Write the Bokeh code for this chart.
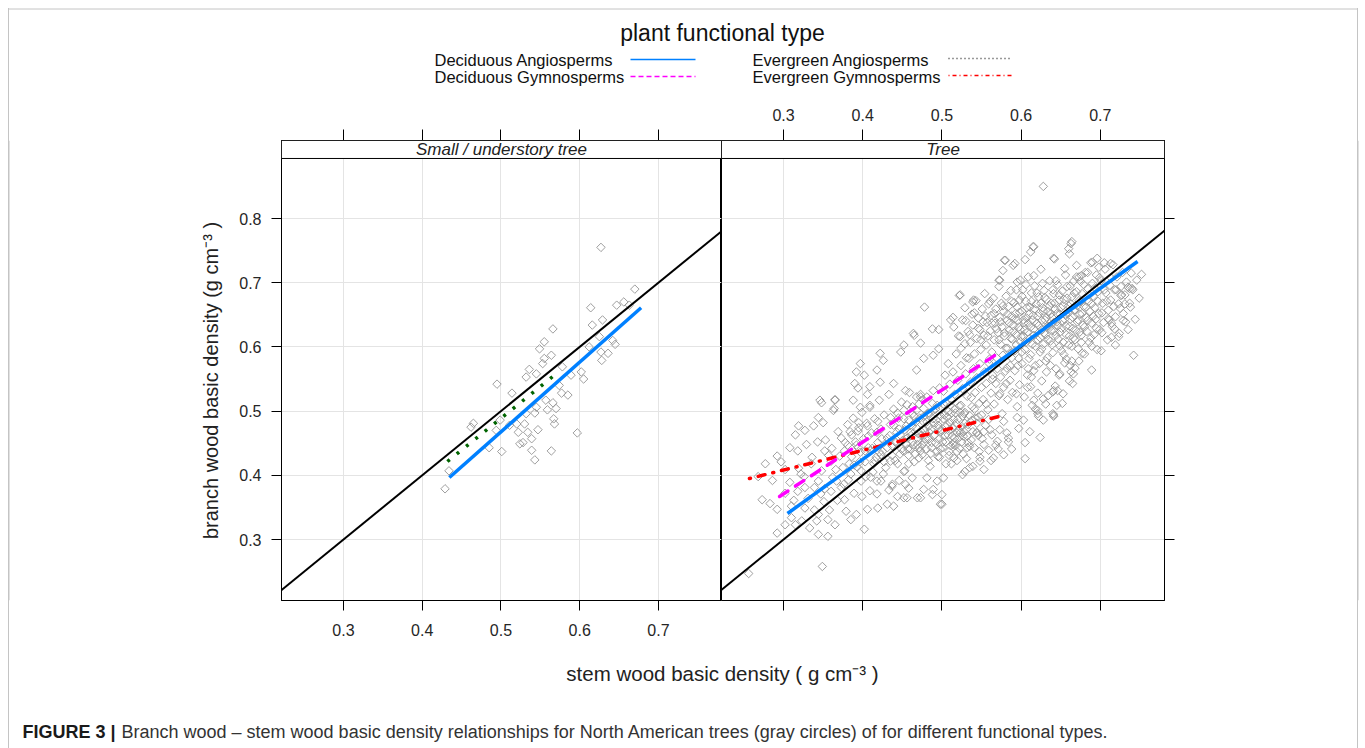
import math
from bokeh.plotting import figure
from bokeh.layouts import row, column
from bokeh.models import (Range1d, LinearAxis, FixedTicker, CustomJSTickFormatter,
                          BoxAnnotation, Label)
from bokeh.core.properties import value
from bokeh.embed import file_html
from bokeh.resources import INLINE

# ---------------------------------------------------------------- data
x_ticks = [0.3, 0.4, 0.5, 0.6, 0.7]
y_ticks = [0.3, 0.4, 0.5, 0.6, 0.7, 0.8]
panel_titles = ["Small / understory tree", "Tree"]
legend_title = "plant functional type"
pft_names = ["Deciduous Angiosperms", "Deciduous Gymnosperms",
             "Evergreen Angiosperms", "Evergreen Gymnosperms"]
x_title = "stem wood basic density ( g cm\u207b\u00b3 )"
y_title = "branch wood basic density (g cm\u207b\u00b3 )"
caption_bold = "FIGURE 3 |"
caption_text = ("Branch wood \u2013 stem wood basic density relationships for North American "
                "trees (gray circles) of for different functional types.")

# 1:1 reference line
identity_x = [0.2, 0.8]
identity_y = [0.2, 0.8]

# fitted lines (stem density, branch density end points)
small_da_x = [0.4345, 0.678]
small_da_y = [0.3966, 0.661]
small_ea_x = [0.432, 0.569]
small_ea_y = [0.4215, 0.557]
tree_da_x = [0.305, 0.747]
tree_da_y = [0.3405, 0.733]
tree_dg_x = [0.295, 0.572]
tree_dg_y = [0.367, 0.591]
tree_eg_x = [0.257, 0.572]
tree_eg_y = [0.395, 0.4916]

# observations (stem, branch)
small_obs = [(0.627,0.755),(0.670,0.690),(0.614,0.661),(0.647,0.665),(0.656,0.670),(0.663,0.665),
    (0.629,0.642),(0.616,0.634),(0.566,0.628),(0.625,0.616),(0.642,0.610),(0.645,0.604),(0.627,0.592),
    (0.636,0.590),(0.628,0.579),(0.612,0.600),(0.549,0.597),(0.555,0.608),(0.564,0.587),(0.555,0.582),
    (0.553,0.574),(0.578,0.569),(0.536,0.565),(0.532,0.553),(0.545,0.558),(0.589,0.556),(0.602,0.561),
    (0.605,0.550),(0.495,0.542),(0.574,0.540),(0.577,0.528),(0.585,0.525),(0.514,0.528),(0.557,0.517),
    (0.566,0.513),(0.559,0.502),(0.570,0.504),(0.543,0.497),(0.545,0.506),(0.532,0.496),(0.567,0.488),
    (0.568,0.480),(0.530,0.480),(0.520,0.480),(0.547,0.471),(0.534,0.467),(0.522,0.467),(0.597,0.466),
    (0.494,0.470),(0.465,0.481),(0.462,0.475),(0.524,0.449),(0.528,0.451),(0.539,0.457),(0.485,0.443),
    (0.501,0.437),(0.539,0.439),(0.564,0.438),(0.543,0.424),(0.434,0.407),(0.429,0.379),(0.499,0.486),
    (0.511,0.478)]

tree_outer = [(0.628,0.850),(0.664,0.764),(0.660,0.753),(0.616,0.756),(0.612,0.748),(0.605,0.736),
    (0.580,0.735),(0.641,0.738),(0.696,0.738),(0.690,0.732),(0.713,0.730),(0.673,0.709),(0.590,0.727),
    (0.577,0.719),(0.572,0.704),(0.599,0.704),(0.523,0.681),(0.478,0.662),(0.540,0.673),(0.740,0.691),
    (0.738,0.662),(0.727,0.681),(0.725,0.660),(0.710,0.644),(0.732,0.639),(0.723,0.616),(0.742,0.587),
    (0.689,0.564),(0.677,0.590),(0.662,0.571),(0.666,0.558),(0.649,0.558),(0.641,0.532),(0.628,0.519),
    (0.616,0.517),(0.645,0.509),(0.621,0.501),(0.641,0.494),(0.464,0.621),(0.452,0.603),(0.448,0.592),
    (0.422,0.590),(0.426,0.579),(0.473,0.606),(0.496,0.627),(0.511,0.642),(0.515,0.631),(0.523,0.616),
    (0.529,0.605),(0.496,0.597),(0.489,0.587),(0.477,0.582),(0.468,0.564),(0.397,0.574),(0.392,0.561),
    (0.402,0.556),(0.418,0.564),(0.422,0.545),(0.439,0.543),(0.409,0.538),(0.390,0.543),(0.346,0.517),
    (0.365,0.517),(0.364,0.504),(0.388,0.517),(0.397,0.506),(0.409,0.506),(0.454,0.532),(0.473,0.522),
    (0.489,0.532),(0.348,0.513),(0.363,0.501),(0.350,0.482),(0.338,0.477),(0.327,0.470),(0.319,0.477),
    (0.315,0.463),(0.292,0.430),(0.277,0.418),(0.308,0.443),(0.318,0.438),(0.329,0.448),(0.302,0.409),
    (0.273,0.362),(0.292,0.347),(0.310,0.352),(0.327,0.349),(0.310,0.334),(0.302,0.323),(0.292,0.310),
    (0.315,0.323),(0.323,0.329),(0.333,0.318),(0.342,0.329),(0.344,0.339),(0.356,0.331),(0.365,0.323),
    (0.344,0.308),(0.356,0.305),(0.349,0.258),(0.256,0.247),(0.360,0.375),(0.367,0.391),(0.344,0.391),
    (0.327,0.381),(0.318,0.375),(0.377,0.362),(0.392,0.339),(0.402,0.316),(0.406,0.347),(0.419,0.349),
    (0.431,0.355),(0.452,0.365),(0.469,0.365),(0.498,0.355),(0.488,0.370),(0.444,0.367),(0.458,0.380),
    (0.477,0.378),(0.500,0.370),(0.4375,0.386),(0.423,0.391),(0.410,0.397),(0.385,0.402),(0.398,0.407),
    (0.375,0.412),(0.360,0.422),(0.377,0.438),(0.394,0.443),(0.410,0.438),(0.423,0.432),(0.435,0.422),
    (0.452,0.406),(0.4625,0.396),(0.481,0.396),(0.494,0.391),(0.502,0.396),(0.344,0.490),(0.381,0.479),
    (0.394,0.469),(0.406,0.477),(0.419,0.484),(0.435,0.490),(0.444,0.497),(0.456,0.510),(0.473,0.526),
    (0.406,0.526),(0.394,0.536),(0.365,0.518),(0.373,0.458),(0.352,0.438),(0.737,0.691),(0.726,0.680),
    (0.729,0.641),(0.718,0.628),(0.714,0.615),(0.665,0.543),(0.663,0.561),(0.653,0.527),(0.646,0.532),
    (0.640,0.530),(0.621,0.496),(0.640,0.496),(0.613,0.553),(0.632,0.561),(0.623,0.574),(0.608,0.537),
    (0.594,0.527),(0.581,0.543),(0.573,0.527),(0.564,0.550),(0.670,0.709),(0.676,0.711),(0.661,0.745),
    (0.663,0.761),(0.642,0.737),(0.615,0.756),(0.592,0.730),(0.579,0.735),(0.573,0.704),(0.522,0.680),
    (0.539,0.670),(0.465,0.618),(0.488,0.628),(0.514,0.646),(0.530,0.641),(0.641,0.492),(0.622,0.492),
    (0.614,0.509),(0.624,0.459),(0.605,0.451),(0.605,0.426),(0.584,0.458),(0.565,0.427),(0.548,0.422),
    (0.532,0.443),(0.529,0.406),(0.535,0.445),(0.515,0.451),(0.515,0.427),(0.500,0.355),(0.489,0.378),
    (0.473,0.365),(0.456,0.365),(0.439,0.352),(0.454,0.386),(0.437,0.383),(0.418,0.391),(0.578,0.484),
    (0.595,0.490),(0.561,0.471),(0.544,0.466),(0.523,0.466),(0.570,0.453),(0.553,0.448),(0.322,0.402),
    (0.336,0.428),(0.347,0.371),(0.353,0.455),(0.362,0.397),(0.371,0.430),(0.376,0.386),(0.383,0.418),
    (0.389,0.372),(0.392,0.447),(0.398,0.391),(0.358,0.346),(0.368,0.361),(0.379,0.344),(0.512,0.418),
    (0.519,0.437),(0.526,0.401),(0.531,0.426),(0.539,0.414),(0.547,0.437),(0.553,0.409),(0.562,0.423),
    (0.571,0.441),(0.582,0.466),(0.588,0.441),(0.597,0.473),(0.603,0.486),(0.611,0.468),(0.618,0.503),
    (0.628,0.486),(0.634,0.524),(0.652,0.512)]

tree_upper = [(0.521,0.617),(0.524,0.598),(0.526,0.642),(0.529,0.661),(0.531,0.583),(0.533,0.624),
    (0.536,0.607),(0.538,0.651),(0.539,0.634),(0.541,0.589),(0.543,0.672),(0.544,0.613),(0.546,0.645),
    (0.548,0.627),(0.549,0.596),(0.551,0.659),(0.553,0.618),(0.554,0.683),(0.556,0.603),(0.557,0.638),
    (0.559,0.667),(0.559,0.575),(0.561,0.625),(0.562,0.649),(0.563,0.592),(0.565,0.676),(0.566,0.611),
    (0.567,0.637),(0.568,0.659),(0.569,0.583),(0.571,0.622),(0.572,0.694),(0.573,0.646),(0.574,0.604),
    (0.575,0.668),(0.576,0.631),(0.577,0.587),(0.578,0.655),(0.579,0.617),(0.581,0.679),(0.582,0.641),
    (0.583,0.598),(0.584,0.663),(0.585,0.626),(0.586,0.571),(0.587,0.688),(0.588,0.648),(0.589,0.612),
    (0.590,0.633),(0.591,0.669),(0.592,0.594),(0.593,0.652),(0.594,0.619),(0.595,0.701),(0.596,0.641),
    (0.597,0.582),(0.598,0.673),(0.599,0.627),(0.599,0.608),(0.601,0.656),(0.602,0.689),(0.603,0.617),
    (0.604,0.638),(0.605,0.596),(0.606,0.671),(0.607,0.645),(0.608,0.623),(0.609,0.709),(0.610,0.582),
    (0.611,0.662),(0.612,0.631),(0.613,0.684),(0.614,0.604),(0.615,0.649),(0.616,0.618),(0.617,0.695),
    (0.618,0.571),(0.619,0.667),(0.620,0.637),(0.621,0.611),(0.622,0.678),(0.623,0.653),(0.624,0.592),
    (0.625,0.721),(0.626,0.627),(0.627,0.661),(0.628,0.604),(0.629,0.688),(0.630,0.642),(0.631,0.619),
    (0.632,0.674),(0.633,0.583),(0.634,0.655),(0.635,0.632),(0.636,0.703),(0.637,0.609),(0.638,0.668),
    (0.639,0.646),(0.640,0.591),(0.641,0.683),(0.642,0.624),(0.643,0.659),(0.644,0.566),(0.645,0.639),
    (0.646,0.697),(0.647,0.612),(0.648,0.673),(0.649,0.651),(0.649,0.601),(0.651,0.629),(0.652,0.687),
    (0.653,0.664),(0.654,0.588),(0.655,0.643),(0.656,0.712),(0.657,0.619),(0.658,0.676),(0.659,0.654),
    (0.660,0.603),(0.661,0.632),(0.662,0.695),(0.663,0.667),(0.664,0.578),(0.665,0.646),(0.666,0.614),
    (0.667,0.684),(0.668,0.658),(0.669,0.626),(0.670,0.727),(0.671,0.639),(0.672,0.597),(0.673,0.672),
    (0.674,0.651),(0.675,0.702),(0.676,0.618),(0.677,0.683),(0.678,0.634),(0.679,0.663),(0.680,0.589),
    (0.681,0.716),(0.682,0.646),(0.683,0.624),(0.684,0.691),(0.685,0.671),(0.686,0.607),(0.687,0.655),
    (0.688,0.731),(0.689,0.637),(0.690,0.699),(0.691,0.679),(0.692,0.619),(0.693,0.661),(0.694,0.643),
    (0.695,0.712),(0.696,0.596),(0.697,0.686),(0.698,0.652),(0.699,0.627),(0.701,0.703),(0.703,0.668),
    (0.704,0.638),(0.706,0.721),(0.707,0.684),(0.709,0.611),(0.710,0.657),(0.712,0.696),(0.713,0.673),
    (0.715,0.632),(0.716,0.728),(0.718,0.689),(0.719,0.647),(0.721,0.709),(0.723,0.667),(0.724,0.621),
    (0.726,0.694),(0.728,0.716),(0.729,0.652),(0.731,0.681),(0.733,0.701),(0.735,0.627),(0.737,0.668),
    (0.739,0.715),(0.741,0.689),(0.744,0.643),(0.746,0.704),(0.749,0.676),(0.752,0.713)]

tree_upper_core = [(0.566,0.652),(0.569,0.628),(0.572,0.611),(0.574,0.639),(0.577,0.664),(0.579,0.622),
    (0.581,0.598),(0.583,0.651),(0.585,0.637),(0.587,0.613),(0.588,0.671),(0.590,0.624),(0.592,0.644),
    (0.594,0.603),(0.595,0.662),(0.597,0.631),(0.598,0.654),(0.600,0.616),(0.601,0.679),(0.603,0.642),
    (0.604,0.626),(0.606,0.607),(0.607,0.661),(0.609,0.637),(0.610,0.651),(0.611,0.613),(0.613,0.671),
    (0.614,0.642),(0.616,0.628),(0.617,0.659),(0.618,0.601),(0.620,0.684),(0.621,0.648),(0.622,0.633),
    (0.624,0.614),(0.625,0.668),(0.626,0.641),(0.628,0.656),(0.629,0.622),(0.630,0.677),(0.632,0.646),
    (0.633,0.632),(0.634,0.612),(0.636,0.664),(0.637,0.651),(0.638,0.626),(0.640,0.689),(0.641,0.638),
    (0.642,0.668),(0.644,0.618),(0.645,0.652),(0.646,0.633),(0.648,0.681),(0.649,0.623),(0.650,0.661),
    (0.652,0.641),(0.653,0.607),(0.654,0.674),(0.656,0.651),(0.657,0.632),(0.658,0.694),(0.660,0.664),
    (0.661,0.617),(0.662,0.643),(0.664,0.678),(0.665,0.629),(0.667,0.657),(0.668,0.611),(0.670,0.686),
    (0.671,0.664),(0.672,0.642),(0.674,0.623),(0.676,0.671),(0.677,0.652),(0.679,0.697),(0.680,0.631),
    (0.682,0.662),(0.684,0.641),(0.686,0.681),(0.688,0.614),(0.689,0.667),(0.691,0.648),(0.693,0.692),
    (0.695,0.629),(0.697,0.671),(0.699,0.708),(0.702,0.653),(0.705,0.689),(0.708,0.671),(0.711,0.642),
    (0.714,0.707),(0.717,0.663),(0.720,0.689),(0.555,0.648),(0.558,0.617),(0.561,0.671),(0.563,0.637),
    (0.546,0.629),(0.549,0.611),(0.552,0.639),(0.535,0.619),(0.541,0.653),(0.594,0.689),(0.606,0.697),
    (0.616,0.711),(0.627,0.699),(0.644,0.703),(0.655,0.722),(0.666,0.702),(0.684,0.716),(0.698,0.724),
    (0.705,0.731),(0.612,0.588),(0.626,0.597),(0.639,0.603),(0.651,0.594),(0.664,0.601),(0.676,0.607),
    (0.689,0.601),(0.702,0.622),(0.714,0.637),(0.588,0.583),(0.601,0.592),(0.582,0.567),(0.596,0.571),
    (0.609,0.566),(0.631,0.578),(0.657,0.581),(0.673,0.578),(0.701,0.594),(0.719,0.603),(0.731,0.667),
    (0.735,0.693)]

tree_middle = [(0.502,0.531),(0.504,0.556),(0.506,0.512),(0.508,0.574),(0.510,0.542),(0.512,0.497),
    (0.514,0.561),(0.516,0.526),(0.518,0.589),(0.520,0.548),(0.522,0.508),(0.524,0.571),(0.526,0.535),
    (0.528,0.496),(0.530,0.558),(0.532,0.523),(0.534,0.582),(0.536,0.545),(0.538,0.507),(0.540,0.566),
    (0.542,0.529),(0.544,0.552),(0.546,0.491),(0.548,0.574),(0.550,0.537),(0.552,0.518),(0.554,0.561),
    (0.556,0.543),(0.558,0.502),(0.560,0.581),(0.562,0.528),(0.564,0.556),(0.566,0.511),(0.568,0.543),
    (0.570,0.566),(0.572,0.524),(0.574,0.553),(0.576,0.496),(0.578,0.537),(0.580,0.562),(0.583,0.518),
    (0.586,0.548),(0.589,0.529),(0.592,0.563),(0.595,0.507),(0.598,0.541),(0.601,0.574),(0.604,0.522),
    (0.608,0.556),(0.612,0.538),(0.616,0.563),(0.621,0.528),(0.626,0.547),(0.631,0.511),(0.637,0.571),
    (0.643,0.539),(0.648,0.556),(0.655,0.575),(0.661,0.547),(0.668,0.567)]

tree_lower = [(0.381,0.447),(0.384,0.468),(0.386,0.429),(0.388,0.489),(0.391,0.452),(0.393,0.413),
    (0.395,0.474),(0.397,0.436),(0.399,0.498),(0.401,0.457),(0.403,0.421),(0.405,0.481),(0.407,0.443),
    (0.409,0.509),(0.411,0.466),(0.413,0.405),(0.415,0.488),(0.417,0.428),(0.419,0.451),(0.421,0.517),
    (0.423,0.472),(0.425,0.437),(0.427,0.494),(0.429,0.412),(0.431,0.458),(0.433,0.526),(0.435,0.479),
    (0.437,0.446),(0.439,0.503),(0.441,0.423),(0.443,0.467),(0.445,0.489),(0.447,0.433),(0.449,0.514),
    (0.451,0.455),(0.453,0.407),(0.455,0.477),(0.457,0.441),(0.459,0.529),(0.461,0.462),(0.463,0.496),
    (0.465,0.421),(0.467,0.483),(0.469,0.448),(0.471,0.511),(0.473,0.469),(0.475,0.432),(0.477,0.492),
    (0.479,0.457),(0.481,0.522),(0.483,0.476),(0.485,0.414),(0.487,0.443),(0.489,0.501),(0.491,0.463),
    (0.493,0.486),(0.495,0.429),(0.497,0.536),(0.499,0.471),(0.501,0.452),(0.503,0.494),(0.505,0.418),
    (0.507,0.478),(0.509,0.437),(0.511,0.509),(0.513,0.461),(0.515,0.487),(0.517,0.446),(0.519,0.423),
    (0.521,0.471),(0.523,0.498),(0.525,0.452),(0.527,0.433),(0.529,0.481),(0.532,0.461),(0.535,0.412),
    (0.538,0.486),(0.541,0.443),(0.544,0.467),(0.548,0.428),(0.551,0.457),(0.555,0.478),(0.559,0.439),
    (0.563,0.463),(0.568,0.447),(0.573,0.471),(0.578,0.432),(0.584,0.452),(0.442,0.451),(0.446,0.472),
    (0.449,0.441),(0.452,0.488),(0.456,0.458),(0.458,0.431),(0.462,0.476),(0.464,0.447),(0.468,0.501),
    (0.470,0.465),(0.473,0.438),(0.476,0.484),(0.478,0.452),(0.482,0.496),(0.484,0.467),(0.486,0.434),
    (0.490,0.482),(0.492,0.451),(0.494,0.509),(0.496,0.473),(0.498,0.441),(0.502,0.488),(0.504,0.462),
    (0.508,0.499),(0.510,0.471),(0.514,0.448),(0.516,0.503),(0.518,0.481),(0.522,0.459),(0.526,0.492),
    (0.528,0.468),(0.533,0.479),(0.537,0.455),(0.542,0.489),(0.546,0.462)]

tree_lower_core = [(0.448,0.462),(0.451,0.438),(0.453,0.471),(0.455,0.449),(0.458,0.486),(0.460,0.441),
    (0.461,0.467),(0.463,0.452),(0.465,0.492),(0.466,0.433),(0.468,0.474),(0.469,0.458),(0.471,0.443),
    (0.472,0.489),(0.474,0.462),(0.475,0.447),(0.477,0.504),(0.478,0.471),(0.480,0.441),(0.481,0.483),
    (0.483,0.456),(0.484,0.497),(0.486,0.471),(0.487,0.451),(0.489,0.488),(0.490,0.462),(0.492,0.503),
    (0.493,0.437),(0.495,0.478),(0.496,0.456),(0.498,0.493),(0.499,0.468),(0.501,0.443),(0.502,0.511),
    (0.504,0.476),(0.505,0.452),(0.507,0.491),(0.508,0.463),(0.510,0.483),(0.511,0.446),(0.513,0.517),
    (0.514,0.474),(0.516,0.458),(0.517,0.497),(0.519,0.466),(0.520,0.487),(0.522,0.442),(0.524,0.509),
    (0.525,0.476),(0.527,0.461),(0.529,0.498),(0.531,0.472),(0.533,0.451),(0.535,0.493),(0.537,0.521),
    (0.539,0.468),(0.541,0.503),(0.544,0.481),(0.547,0.512),(0.550,0.494),(0.553,0.468),(0.556,0.511),
    (0.559,0.487),(0.431,0.443),(0.434,0.462),(0.437,0.431),(0.439,0.478),(0.441,0.452),(0.444,0.418),
    (0.421,0.436),(0.424,0.457),(0.427,0.421),(0.412,0.442),(0.415,0.423),(0.418,0.467),(0.403,0.438),
    (0.407,0.461),(0.396,0.421),(0.458,0.418),(0.471,0.427),(0.483,0.423),(0.497,0.428),(0.509,0.431),
    (0.488,0.512),(0.476,0.518),(0.463,0.507),(0.452,0.501),(0.468,0.522)]

tree_left = [(0.302,0.372),(0.308,0.389),(0.313,0.361),(0.319,0.411),(0.326,0.398),(0.331,0.364),
    (0.335,0.418),(0.339,0.381),(0.343,0.452),(0.348,0.407),(0.352,0.379),(0.357,0.431),(0.361,0.442),
    (0.366,0.409),(0.369,0.468),(0.373,0.381),(0.378,0.451),(0.382,0.393),(0.386,0.463),(0.389,0.416),
    (0.395,0.482),(0.399,0.367),(0.404,0.398),(0.409,0.376),(0.414,0.418),(0.418,0.371),(0.426,0.402),
    (0.433,0.377),(0.446,0.392),(0.286,0.392),(0.297,0.421),(0.283,0.356),(0.268,0.398),(0.339,0.346),
    (0.351,0.359),(0.385,0.331)]

# ---------------------------------------------------------------- styling
FONT = "Liberation Sans"
C_DA, C_DG, C_EA, C_EG = "#0080ff", "#ff00ff", "#006400", "#ff0000"
PT_COL = "#949494"
BORDER = "#c4c4c4"

Y_RANGE = (0.205, 0.9215)      # plot area + strip above
STRIP_BOTTOM = 0.8935
FRAME_TOP, FRAME_BOTTOM = 140, 600
FRAME_H = FRAME_BOTTOM - FRAME_TOP
TOP_H, ROW_H, BOT_H = 95, 555, 98
MB_TOP = FRAME_TOP - TOP_H
MB_BOT = TOP_H + ROW_H - FRAME_BOTTOM
GUT_L, GUT_R = 230, 171


def style_axis(ax, labels=True, tick_out=10, standoff=10):
    ax.axis_line_color = "black"
    ax.major_tick_line_color = "black"
    ax.major_tick_in = 0
    ax.major_tick_out = tick_out
    ax.minor_tick_line_color = None
    ax.major_label_text_font = FONT
    ax.major_label_text_font_size = "16px"
    ax.major_label_text_color = "#262626"
    ax.major_label_standoff = standoff
    if not labels:
        ax.formatter = CustomJSTickFormatter(code="return ''")


def panel(xr, frame_w, mbl, mbr):
    p = figure(x_range=Range1d(*xr), y_range=Range1d(*Y_RANGE),
               frame_width=frame_w, frame_height=FRAME_H,
               min_border_left=mbl, min_border_right=mbr,
               min_border_top=MB_TOP, min_border_bottom=MB_BOT,
               toolbar_location=None, output_backend="svg",
               x_axis_location=None, y_axis_location=None)
    p.outline_line_color = "black"
    p.outline_line_alpha = 1
    p.outline_line_width = 1
    p.border_fill_color = None
    p.background_fill_color = "white"
    p.xgrid.ticker = FixedTicker(ticks=x_ticks)
    p.ygrid.ticker = FixedTicker(ticks=y_ticks)
    p.grid.grid_line_color = "#e4e4e4"
    p.grid.grid_line_width = 1
    return p


def add_strip(p, xr, title):
    p.add_layout(BoxAnnotation(bottom=STRIP_BOTTOM, fill_color="white", fill_alpha=1,
                               line_color="black", line_width=1, line_alpha=1))
    p.add_layout(Label(x=(xr[0] + xr[1]) / 2, y=(STRIP_BOTTOM + Y_RANGE[1]) / 2, text=title,
                       text_align="center", text_baseline="middle", text_font=FONT,
                       text_font_size="17px", text_font_style="italic", text_color="#222222"))


def draw_points(p, pts):
    p.scatter([a for a, b in pts], [b for a, b in pts], marker="square", size=6,
              angle=math.pi / 4, fill_color=None, line_color=PT_COL, line_alpha=0.9,
              line_width=1)


# ---------------- left panel (Small / understory tree)
xr_l = (0.2213, 0.7801)
left = panel(xr_l, 440, 281 - GUT_L, 0)
ax = LinearAxis(ticker=FixedTicker(ticks=y_ticks)); style_axis(ax, True, 10, 10); left.add_layout(ax, "left")
ax = LinearAxis(ticker=FixedTicker(ticks=x_ticks)); style_axis(ax, True, 10, 13); left.add_layout(ax, "below")
ax = LinearAxis(ticker=FixedTicker(ticks=x_ticks)); style_axis(ax, False, 11, 4); left.add_layout(ax, "above")
draw_points(left, small_obs)
left.line(identity_x, identity_y, line_color="black", line_width=2)
left.line(small_da_x, small_da_y, line_color=C_DA, line_width=3.5)
left.line(small_ea_x, small_ea_y, line_color=C_EA, line_width=3.5, line_dash="3 9", line_cap="butt")
add_strip(left, xr_l, panel_titles[0])

# ---------------- right panel (Tree)
xr_r = (0.2217, 0.7810)
right = panel(xr_r, 443, 0, 1365 - 1164 - GUT_R)
ax = LinearAxis(ticker=FixedTicker(ticks=x_ticks)); style_axis(ax, True, 11, 9); right.add_layout(ax, "above")
ax = LinearAxis(ticker=FixedTicker(ticks=x_ticks)); style_axis(ax, False, 10, 4); right.add_layout(ax, "below")
ax = LinearAxis(ticker=FixedTicker(ticks=y_ticks)); style_axis(ax, False, 10, 4); right.add_layout(ax, "right")
for pts in (tree_outer, tree_left, tree_lower, tree_lower_core, tree_middle, tree_upper, tree_upper_core):
    draw_points(right, pts)
right.line(identity_x, identity_y, line_color="black", line_width=2)
right.line(tree_eg_x, tree_eg_y, line_color=C_EG, line_width=3.5, line_dash="1 8 7 8", line_cap="round")
right.line(tree_dg_x, tree_dg_y, line_color=C_DG, line_width=3.5, line_dash="10 9", line_cap="round")
right.line(tree_da_x, tree_da_y, line_color=C_DA, line_width=3.5)
add_strip(right, xr_r, panel_titles[1])


# ---------------- page furniture (transparent canvases in page-pixel units)
def canvas(w, x0, y_top, y_bot, mbt=0, mbb=0):
    c = figure(x_range=Range1d(x0, x0 + w), y_range=Range1d(y_bot, y_top),
               frame_width=w, frame_height=y_bot - y_top, min_border=0,
               min_border_top=mbt, min_border_bottom=mbb,
               toolbar_location=None, output_backend="svg",
               x_axis_location=None, y_axis_location=None)
    c.grid.visible = False
    c.outline_line_color = None
    c.border_fill_color = None
    c.background_fill_color = None
    return c


hdr = canvas(1365, 0, 0, TOP_H)
hdr.segment(x0=[8.5], y0=[8.5], x1=[1357.5], y1=[8.5], line_color=BORDER, line_width=1)
hdr.text(x=[722], y=[32], text=[legend_title], text_font=value(FONT), text_font_size=value("23px"),
         text_align="center", text_baseline="middle", text_color="#111111")
hdr.text(x=[434, 434, 752, 752], y=[59, 76, 59, 76], text=pft_names,
         text_font=value(FONT), text_font_size=value("16.5px"), text_align="left",
         text_baseline="middle", text_color="#111111")
hdr.line([630, 695], [59, 59], line_color=C_DA, line_width=1.5)
hdr.line([630, 695], [76, 76], line_color=C_DG, line_width=1.5, line_dash="5 3")
hdr.line([948, 1012], [58, 58], line_color="#333333", line_width=1.5, line_dash="1 3")
hdr.line([948, 1012], [75, 75], line_color=C_EG, line_width=1.5, line_dash="1 3 4 3")

# side gutters share the panels' frame rows (Bokeh aligns the frames in a row)
gut_l = canvas(GUT_L, 0, FRAME_TOP, FRAME_BOTTOM, MB_TOP, MB_BOT)
gut_l.quad(left=[8], right=[9], top=[FRAME_TOP], bottom=[FRAME_BOTTOM], fill_color=BORDER, line_color=None)
gut_l.text(x=[210], y=[380], text=[y_title], angle=math.pi / 2, text_font=value(FONT),
           text_font_size=value("20px"), text_align="center", text_baseline="middle",
           text_color="#222222")

gut_r = canvas(GUT_R, 1365 - GUT_R, FRAME_TOP, FRAME_BOTTOM, MB_TOP, MB_BOT)
gut_r.quad(left=[1357], right=[1358], top=[FRAME_TOP], bottom=[FRAME_BOTTOM], fill_color=BORDER, line_color=None)

bot = canvas(1365, 0, TOP_H + ROW_H, 748)
bot.text(x=[722], y=[673], text=[x_title], text_font=value(FONT), text_font_size=value("20.5px"),
         text_align="center", text_baseline="middle", text_color="#222222")
bot.text(x=[22], y=[731], text=[caption_bold], text_font=value(FONT), text_font_size=value("18px"),
         text_font_style="bold", text_align="left", text_baseline="middle", text_color="#1a1a1a")
bot.text(x=[121], y=[731], text=[caption_text], text_font=value(FONT), text_font_size=value("18px"),
         text_align="left", text_baseline="middle", text_color="#333333")

# the thin grey frame's two sides, painted behind the transparent canvases
frame_css = {
    "background-color": "white",
    "background-image": ("linear-gradient(to right, #c4c4c4 0px, #c4c4c4 1px, rgba(255,255,255,0) 1px, "
                         "rgba(255,255,255,0) 1349px, #c4c4c4 1349px, #c4c4c4 1350px)"),
    "background-size": "1350px 760px",
    "background-position": "8px 8px",
    "background-repeat": "no-repeat",
}
layout = column(hdr, row(gut_l, left, right, gut_r), bot, styles=frame_css)
open("out.html", "w").write(file_html(layout, INLINE))
